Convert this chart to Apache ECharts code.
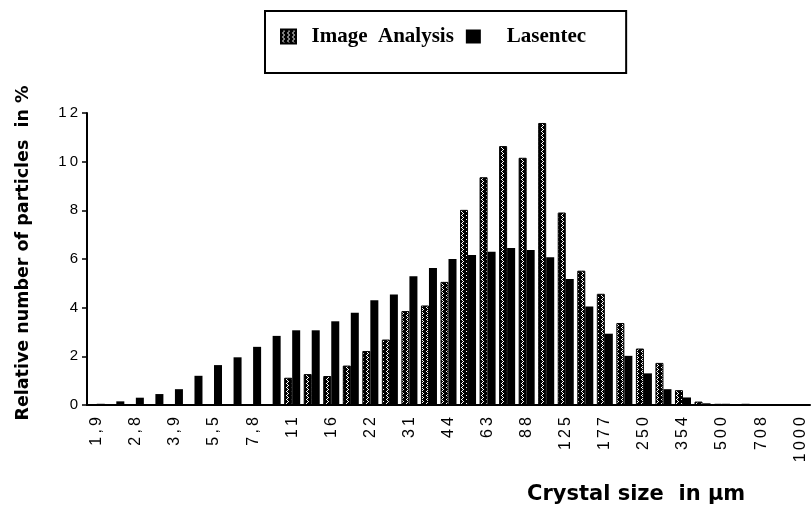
<!DOCTYPE html>
<html lang="en">
<head>
    <meta charset="UTF-8">
    <title>Crystal size distribution</title>
    <script src="https://cdn.jsdelivr.net/npm/echarts@6/dist/echarts.min.js"></script>
    <style>
        html, body { margin: 0; padding: 0; background: #fff; }
        #main { width: 812px; height: 508px; }
    </style>
</head>
<body>
<div id="main"></div>
<script>
    // crystal size classes in µm (every other one is labelled)
    var sizes = ['1,9', '2,3', '2,8', '3,3', '3,9', '4,6', '5,5', '6,5', '7,8', '9,3',
        '11', '13', '16', '19', '22', '26', '31', '37', '44', '53',
        '63', '74', '88', '105', '125', '149', '177', '210', '250', '297',
        '354', '420', '500', '595', '708', '841', '1000'];

    // relative number of particles in %
    var imageAnalysis = [0, 0, 0, 0, 0, 0, 0, 0, 0, 0,
        1.12, 1.27, 1.19, 1.62, 2.22, 2.69, 3.86, 4.09, 5.06, 8.02,
        9.36, 10.64, 10.16, 11.59, 7.91, 5.52, 4.57, 3.37, 2.32, 1.73,
        0.61, 0.14, 0.05, 0.03, 0, 0, 0];
    var lasentec = [0.05, 0.15, 0.3, 0.45, 0.65, 1.2, 1.64, 1.96, 2.39, 2.84,
        3.07, 3.07, 3.44, 3.79, 4.3, 4.54, 5.29, 5.63, 6.0, 6.16,
        6.3, 6.45, 6.37, 6.07, 5.18, 4.05, 2.93, 2.02, 1.3, 0.65,
        0.31, 0.07, 0.05, 0.05, 0.02, 0.02, 0];

    // dark zigzag hatch like the printed bars
    var hatch = document.createElement('canvas');
    hatch.width = 5; hatch.height = 4;
    var ctx = hatch.getContext('2d');
    ctx.fillStyle = '#000';
    ctx.fillRect(0, 0, 5, 4);
    ctx.fillStyle = '#fff';
    ctx.fillRect(2, 0, 1, 1);
    ctx.fillRect(3, 1, 1, 1);
    ctx.fillRect(2, 2, 1, 1);
    ctx.fillRect(1, 3, 1, 1);

    // the print has wide letter spacing on the tick labels
    var spaced = function (v) {
        return String(v).split('').join('\u2009');
    };

    var chart = echarts.init(document.getElementById('main'));

    var option = {
        backgroundColor: '#fff',
        animation: false,
        title: {
            text: 'Crystal size  in \u03bcm',
            left: 527,
            top: 484,
            padding: 0,
            textStyle: {
                fontFamily: 'DejaVu Sans',
                fontWeight: 'bold',
                fontSize: 21,
                color: '#000'
            }
        },
        legend: {
            left: 265,
            top: 11,
            padding: [15, 40, 26, 15],
            borderColor: '#000',
            borderWidth: 2,
            itemWidth: 15,
            itemHeight: 14,
            itemGap: 12,
            icon: 'rect',
            formatter: function (name) {
                return name === 'Lasentec' ? '    ' + name : '  ' + name;
            },
            textStyle: {
                fontFamily: 'Liberation Serif',
                fontWeight: 'bold',
                fontSize: 21,
                color: '#000'
            },
            data: ['Image  Analysis', 'Lasentec']
        },
        grid: {
            left: 87,
            right: 2,
            top: 113,
            bottom: 103
        },
        xAxis: {
            type: 'category',
            data: sizes,
            boundaryGap: true,
            axisLine: { lineStyle: { color: '#000', width: 2 } },
            axisTick: { interval: 0, length: 6, lineStyle: { color: '#000', width: 1.5 } },
            axisLabel: {
                interval: 1,
                rotate: 90,
                margin: 12,
                formatter: spaced,
                fontFamily: 'Liberation Sans',
                fontSize: 16,
                color: '#000'
            },
            splitLine: { show: false }
        },
        yAxis: {
            type: 'value',
            min: 0,
            max: 12,
            interval: 2,
            name: 'Relative number of particles  in %',
            nameLocation: 'middle',
            nameGap: 55,
            nameTextStyle: {
                fontFamily: 'DejaVu Sans',
                fontWeight: 'bold',
                fontSize: 17.5,
                color: '#000',
                padding: [0, 0, 0, 12]
            },
            axisLine: { show: true, lineStyle: { color: '#000', width: 2 } },
            axisTick: { show: true, length: 5, lineStyle: { color: '#000', width: 1.5 } },
            axisLabel: {
                margin: 9,
                formatter: spaced,
                fontFamily: 'Liberation Sans',
                fontSize: 15,
                color: '#000'
            },
            splitLine: { show: false }
        },
        series: [
            {
                name: 'Image  Analysis',
                type: 'bar',
                data: imageAnalysis,
                barGap: '0%',
                barCategoryGap: '18%',
                itemStyle: {
                    color: { image: hatch, repeat: 'repeat' },
                    borderColor: '#000',
                    borderWidth: 1
                }
            },
            {
                name: 'Lasentec',
                type: 'bar',
                data: lasentec,
                barGap: '0%',
                barCategoryGap: '18%',
                itemStyle: { color: '#000' }
            }
        ]
    };

    chart.setOption(option);
</script>
</body>
</html>
